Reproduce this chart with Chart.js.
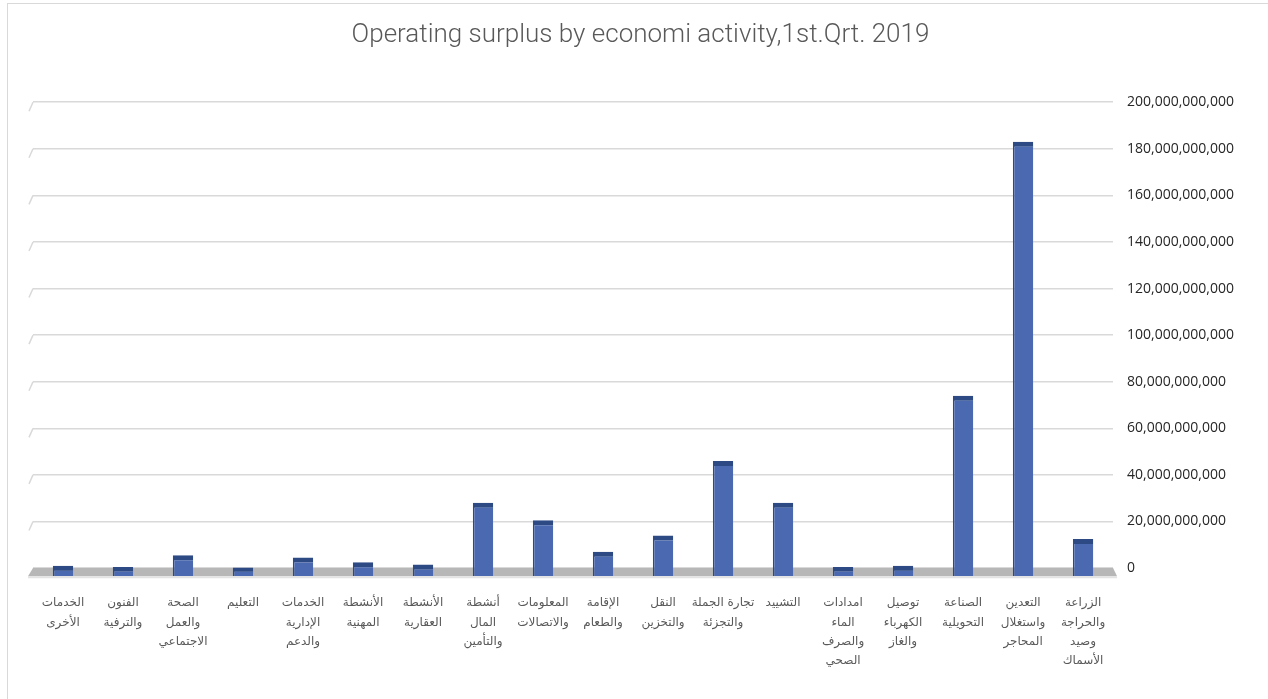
<!DOCTYPE html>
<html>
<head>
<meta charset="utf-8">
<script src="https://cdn.jsdelivr.net/npm/chart.js@4.4.1/dist/chart.umd.min.js"></script>
<style>
  body { margin: 0; background: #fff; }
  .frame { position: absolute; left: 7px; top: 3px; width: 1268px; height: 699px; border-left: 1px solid #d9d9d9; border-top: 1px solid #d9d9d9; }
  canvas.chart { position: absolute; left: 0; top: 0; }
</style>
</head>
<body>
<div class="frame"></div>
<canvas class="chart" width="1268" height="699"></canvas>
<script>
// activities, first one sits on the right (axis is reversed)
const activities = [
  ["الزراعة", "والحراجة", "وصيد", "الأسماك"],
  ["التعدين", "واستغلال", "المحاجر"],
  ["الصناعة", "التحويلية"],
  ["توصيل", "الكهرباء", "والغاز"],
  ["امدادات", "الماء", "والصرف", "الصحي"],
  ["التشييد"],
  ["تجارة الجملة", "والتجزئة"],
  ["النقل", "والتخزين"],
  ["الإقامة", "والطعام"],
  ["المعلومات", "والاتصالات"],
  ["أنشطة", "المال", "والتأمين"],
  ["الأنشطة", "العقارية"],
  ["الأنشطة", "المهنية"],
  ["الخدمات", "الإدارية", "والدعم"],
  ["التعليم"],
  ["الصحة", "والعمل", "الاجتماعي"],
  ["الفنون", "والترفية"],
  ["الخدمات", "الأخرى"]
];

const surplus = [
  12.5e9, 183e9, 74e9, 1e9, 0.5e9, 28e9, 46e9, 14e9, 7e9,
  20.5e9, 28e9, 1.5e9, 2.5e9, 4.5e9, 0.3e9, 5.5e9, 0.5e9, 1e9
];

const yTicks = [0, 20e9, 40e9, 60e9, 80e9, 100e9, 120e9, 140e9, 160e9, 180e9, 200e9];
const floorDepth = -3.5e9;

const chartTitle = "Operating surplus by economi activity,1st.Qrt. 2019";

// grey floor + little slanted ends of the gridlines (3d look)
const floorPlugin = {
  id: "floor",
  beforeDatasetsDraw(chart) {
    const ctx = chart.ctx;
    const area = chart.chartArea;
    const y = chart.scales.y;
    const top = y.getPixelForValue(0);
    const bottom = area.bottom;
    ctx.save();
    ctx.fillStyle = "#b7b7b7";
    ctx.beginPath();
    ctx.moveTo(area.left, top);
    ctx.lineTo(area.right, top);
    ctx.lineTo(area.right + 4, bottom);
    ctx.lineTo(area.left - 5, bottom);
    ctx.closePath();
    ctx.fill();
    ctx.strokeStyle = "#e3e3e3";
    ctx.lineWidth = 2;
    ctx.beginPath();
    ctx.moveTo(area.left - 5, bottom + 1);
    ctx.lineTo(area.right + 4, bottom + 1);
    ctx.stroke();
    ctx.strokeStyle = "#d9d9d9";
    ctx.lineWidth = 1.5;
    y.ticks.forEach(t => {
      if (t.value <= 0) return;
      const py = y.getPixelForValue(t.value);
      ctx.beginPath();
      ctx.moveTo(area.left, py);
      ctx.lineTo(area.left - 4, py + 9);
      ctx.stroke();
    });
    ctx.restore();
  }
};

const chartCanvas = document.querySelector("canvas.chart");

function createChart(canvasElement) {
  new Chart(canvasElement, {
    type: "bar",
    data: {
      labels: activities,
      datasets: [{
        data: surplus,
        base: floorDepth,
        backgroundColor: "#4a69b1",
        borderColor: "#2d4a85",
        borderWidth: { top: 5, left: 1.5, right: 0, bottom: 0 },
        borderSkipped: false,
        barPercentage: 0.34,
        categoryPercentage: 1
      }]
    },
    options: {
      responsive: false,
      animation: false,
      layout: { padding: { left: 33, right: 20, bottom: 19 } },
      plugins: {
        legend: { display: false },
        tooltip: { enabled: false },
        title: {
          display: true,
          text: chartTitle,
          color: "#595959",
          font: { family: "Roboto", size: 26, weight: 300 },
          padding: { top: 20, bottom: 51 }
        }
      },
      scales: {
        x: {
          reverse: true,
          grid: { display: false },
          border: { display: false },
          ticks: {
            color: "#595959",
            font: { family: "DejaVu Sans", size: 12, lineHeight: 1.62 },
            padding: 9,
            maxRotation: 0,
            autoSkip: false
          }
        },
        y: {
          position: "right",
          min: floorDepth,
          max: yTicks[yTicks.length - 1],
          afterBuildTicks(scale) {
            scale.ticks = yTicks.map(v => ({ value: v }));
          },
          grid: { color: "#d9d9d9", lineWidth: 1.5, drawTicks: false },
          border: { display: false },
          ticks: {
            padding: 14,
            color: "#262626",
            font: { family: "Open Sans", size: 14 },
            callback: v => v.toLocaleString("en-US")
          }
        }
      }
    },
    plugins: [floorPlugin]
  });
}

createChart(chartCanvas);
</script>
</body>
</html>
